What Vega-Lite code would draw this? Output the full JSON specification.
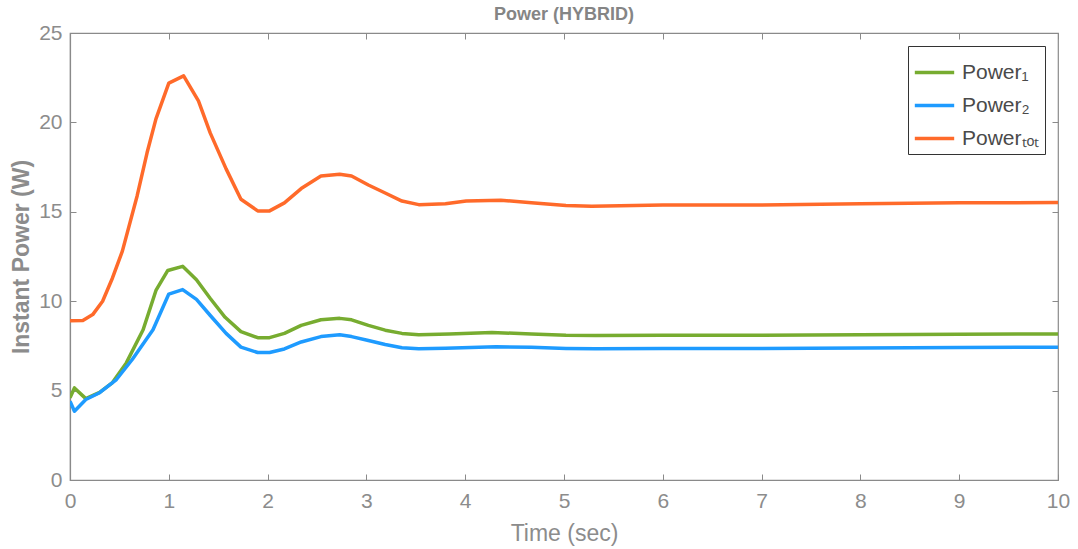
{
  "$schema": "https://vega.github.io/schema/vega-lite/v6.json",
  "autosize": {"type": "none"},
  "width": 988,
  "height": 447,
  "padding": {"left": 70, "top": 33, "right": 20, "bottom": 69},
  "background": "white",
  "config": {
    "font": "Liberation Sans",
    "view": {"stroke": "#8a8a8a", "strokeWidth": 1.2},
    "axis": {
      "labelFont": "Liberation Sans",
      "titleFont": "Liberation Sans",
      "labelColor": "#8c8c8c",
      "titleColor": "#8c8c8c",
      "labelFontSize": 21,
      "titleFontSize": 23,
      "gridColor": "#e3e3e3",
      "gridWidth": 1,
      "domainColor": "#8a8a8a",
      "tickColor": "#8a8a8a",
      "tickSize": -6,
      "domainWidth": 1.2
    }
  },
  "title": {
    "text": "Power (HYBRID)",
    "fontSize": 18,
    "fontWeight": "bold",
    "color": "#858585",
    "font": "Liberation Sans",
    "offset": -2,
    "anchor": "middle",
    "frame": "group"
  },
  "data": {
    "values": [
      {"t": 0, "s": "Power₁", "p": 4.6},
      {"t": 0.045, "s": "Power₁", "p": 5.15},
      {"t": 0.16, "s": "Power₁", "p": 4.55},
      {"t": 0.3, "s": "Power₁", "p": 4.9},
      {"t": 0.43, "s": "Power₁", "p": 5.45},
      {"t": 0.57, "s": "Power₁", "p": 6.55},
      {"t": 0.74, "s": "Power₁", "p": 8.4},
      {"t": 0.87, "s": "Power₁", "p": 10.6},
      {"t": 0.99, "s": "Power₁", "p": 11.72},
      {"t": 1.14, "s": "Power₁", "p": 11.95},
      {"t": 1.28, "s": "Power₁", "p": 11.2},
      {"t": 1.42, "s": "Power₁", "p": 10.15},
      {"t": 1.57, "s": "Power₁", "p": 9.1},
      {"t": 1.73, "s": "Power₁", "p": 8.3},
      {"t": 1.9, "s": "Power₁", "p": 7.96},
      {"t": 2.02, "s": "Power₁", "p": 7.96},
      {"t": 2.17, "s": "Power₁", "p": 8.2},
      {"t": 2.34, "s": "Power₁", "p": 8.65},
      {"t": 2.54, "s": "Power₁", "p": 8.96},
      {"t": 2.73, "s": "Power₁", "p": 9.04},
      {"t": 2.85, "s": "Power₁", "p": 8.96},
      {"t": 3.02, "s": "Power₁", "p": 8.65},
      {"t": 3.19, "s": "Power₁", "p": 8.38},
      {"t": 3.36, "s": "Power₁", "p": 8.2},
      {"t": 3.53, "s": "Power₁", "p": 8.12},
      {"t": 3.84, "s": "Power₁", "p": 8.17},
      {"t": 4.27, "s": "Power₁", "p": 8.25},
      {"t": 4.67, "s": "Power₁", "p": 8.17},
      {"t": 5.02, "s": "Power₁", "p": 8.1},
      {"t": 5.32, "s": "Power₁", "p": 8.08},
      {"t": 6, "s": "Power₁", "p": 8.1},
      {"t": 7, "s": "Power₁", "p": 8.1},
      {"t": 8, "s": "Power₁", "p": 8.13},
      {"t": 9, "s": "Power₁", "p": 8.15},
      {"t": 10, "s": "Power₁", "p": 8.17},
      {"t": 0, "s": "Power₂", "p": 4.4},
      {"t": 0.045, "s": "Power₂", "p": 3.85},
      {"t": 0.16, "s": "Power₂", "p": 4.5},
      {"t": 0.3, "s": "Power₂", "p": 4.88},
      {"t": 0.47, "s": "Power₂", "p": 5.62},
      {"t": 0.63, "s": "Power₂", "p": 6.74},
      {"t": 0.84, "s": "Power₂", "p": 8.4},
      {"t": 1.0, "s": "Power₂", "p": 10.4},
      {"t": 1.14, "s": "Power₂", "p": 10.65},
      {"t": 1.28, "s": "Power₂", "p": 10.1},
      {"t": 1.42, "s": "Power₂", "p": 9.2},
      {"t": 1.58, "s": "Power₂", "p": 8.2},
      {"t": 1.73, "s": "Power₂", "p": 7.43},
      {"t": 1.9, "s": "Power₂", "p": 7.13},
      {"t": 2.02, "s": "Power₂", "p": 7.13},
      {"t": 2.17, "s": "Power₂", "p": 7.33},
      {"t": 2.34, "s": "Power₂", "p": 7.72},
      {"t": 2.54, "s": "Power₂", "p": 8.02},
      {"t": 2.73, "s": "Power₂", "p": 8.12},
      {"t": 2.85, "s": "Power₂", "p": 8.02},
      {"t": 3.02, "s": "Power₂", "p": 7.8},
      {"t": 3.19, "s": "Power₂", "p": 7.58},
      {"t": 3.36, "s": "Power₂", "p": 7.4},
      {"t": 3.53, "s": "Power₂", "p": 7.34},
      {"t": 3.8, "s": "Power₂", "p": 7.37},
      {"t": 4.31, "s": "Power₂", "p": 7.45},
      {"t": 4.67, "s": "Power₂", "p": 7.42},
      {"t": 5.02, "s": "Power₂", "p": 7.36},
      {"t": 5.32, "s": "Power₂", "p": 7.34},
      {"t": 6, "s": "Power₂", "p": 7.35},
      {"t": 7, "s": "Power₂", "p": 7.36},
      {"t": 8, "s": "Power₂", "p": 7.38},
      {"t": 9, "s": "Power₂", "p": 7.41},
      {"t": 10, "s": "Power₂", "p": 7.43},
      {"t": 0, "s": "Powerₜₒₜ", "p": 8.9},
      {"t": 0.13, "s": "Powerₜₒₜ", "p": 8.92},
      {"t": 0.23, "s": "Powerₜₒₜ", "p": 9.25},
      {"t": 0.33, "s": "Powerₜₒₜ", "p": 10.0},
      {"t": 0.43, "s": "Powerₜₒₜ", "p": 11.3},
      {"t": 0.53, "s": "Powerₜₒₜ", "p": 12.8},
      {"t": 0.68, "s": "Powerₜₒₜ", "p": 15.9},
      {"t": 0.78, "s": "Powerₜₒₜ", "p": 18.3},
      {"t": 0.87, "s": "Powerₜₒₜ", "p": 20.2},
      {"t": 1.0, "s": "Powerₜₒₜ", "p": 22.2},
      {"t": 1.15, "s": "Powerₜₒₜ", "p": 22.6},
      {"t": 1.3, "s": "Powerₜₒₜ", "p": 21.2},
      {"t": 1.42, "s": "Powerₜₒₜ", "p": 19.4},
      {"t": 1.58, "s": "Powerₜₒₜ", "p": 17.4},
      {"t": 1.73, "s": "Powerₜₒₜ", "p": 15.7},
      {"t": 1.9, "s": "Powerₜₒₜ", "p": 15.05},
      {"t": 2.02, "s": "Powerₜₒₜ", "p": 15.05},
      {"t": 2.17, "s": "Powerₜₒₜ", "p": 15.5},
      {"t": 2.34, "s": "Powerₜₒₜ", "p": 16.3},
      {"t": 2.54, "s": "Powerₜₒₜ", "p": 17.0},
      {"t": 2.73, "s": "Powerₜₒₜ", "p": 17.1},
      {"t": 2.85, "s": "Powerₜₒₜ", "p": 17.0},
      {"t": 3.02, "s": "Powerₜₒₜ", "p": 16.5},
      {"t": 3.19, "s": "Powerₜₒₜ", "p": 16.05},
      {"t": 3.36, "s": "Powerₜₒₜ", "p": 15.6},
      {"t": 3.53, "s": "Powerₜₒₜ", "p": 15.4},
      {"t": 3.8, "s": "Powerₜₒₜ", "p": 15.45},
      {"t": 4.01, "s": "Powerₜₒₜ", "p": 15.6},
      {"t": 4.36, "s": "Powerₜₒₜ", "p": 15.65},
      {"t": 4.67, "s": "Powerₜₒₜ", "p": 15.5},
      {"t": 5.02, "s": "Powerₜₒₜ", "p": 15.35},
      {"t": 5.28, "s": "Powerₜₒₜ", "p": 15.31},
      {"t": 6, "s": "Powerₜₒₜ", "p": 15.38},
      {"t": 7, "s": "Powerₜₒₜ", "p": 15.38},
      {"t": 8, "s": "Powerₜₒₜ", "p": 15.45},
      {"t": 9, "s": "Powerₜₒₜ", "p": 15.5},
      {"t": 10, "s": "Powerₜₒₜ", "p": 15.52}
    ]
  },
  "layer": [
    {
      "mark": {"type": "line", "strokeOpacity": 0},
      "encoding": {
        "x": {
          "field": "t",
          "type": "quantitative",
          "scale": {"domain": [0, 10], "nice": false},
          "axis": {"orient": "top", "title": null, "labels": false, "grid": false, "domain": false, "values": [0,1,2,3,4,5,6,7,8,9,10]}
        },
        "y": {
          "field": "p",
          "type": "quantitative",
          "scale": {"domain": [0, 25], "nice": false},
          "axis": {"orient": "right", "title": null, "labels": false, "grid": false, "domain": false, "values": [0,5,10,15,20,25]}
        }
      }
    },
    {
      "mark": {"type": "line", "strokeWidth": 3.5, "strokeJoin": "round", "clip": true},
      "encoding": {
        "x": {
          "field": "t",
          "type": "quantitative",
          "scale": {"domain": [0, 10], "nice": false},
          "axis": {"orient": "bottom", "title": "Time (sec)", "values": [0,1,2,3,4,5,6,7,8,9,10], "labelPadding": 16, "titlePadding": 11, "titleFontWeight": "normal", "labelFlush": false}
        },
        "y": {
          "field": "p",
          "type": "quantitative",
          "scale": {"domain": [0, 25], "nice": false},
          "axis": {"orient": "left", "title": "Instant Power (W)", "values": [0,5,10,15,20,25], "labelPadding": 14, "titlePadding": 5, "titleFontWeight": "bold"}
        },
        "color": {
          "field": "s",
          "type": "nominal",
          "scale": {"domain": ["Power₁", "Power₂", "Powerₜₒₜ"], "range": ["#77ac30", "#1e9bff", "#ff6a2a"]},
          "legend": {
            "title": null,
            "orient": "top-right",
            "offset": 13,
            "symbolType": "stroke",
            "symbolSize": 1550,
            "symbolStrokeWidth": 3.5,
            "labelFontSize": 21,
            "labelColor": "#4a4a4a",
            "labelFont": "Liberation Sans",
            "fillColor": "white",
            "strokeColor": "#333333",
            "padding": 5,
            "rowPadding": 1,
            "labelOffset": 6
          }
        }
      }
    }
  ],
  "resolve": {"axis": {"x": "independent", "y": "independent"}}
}
